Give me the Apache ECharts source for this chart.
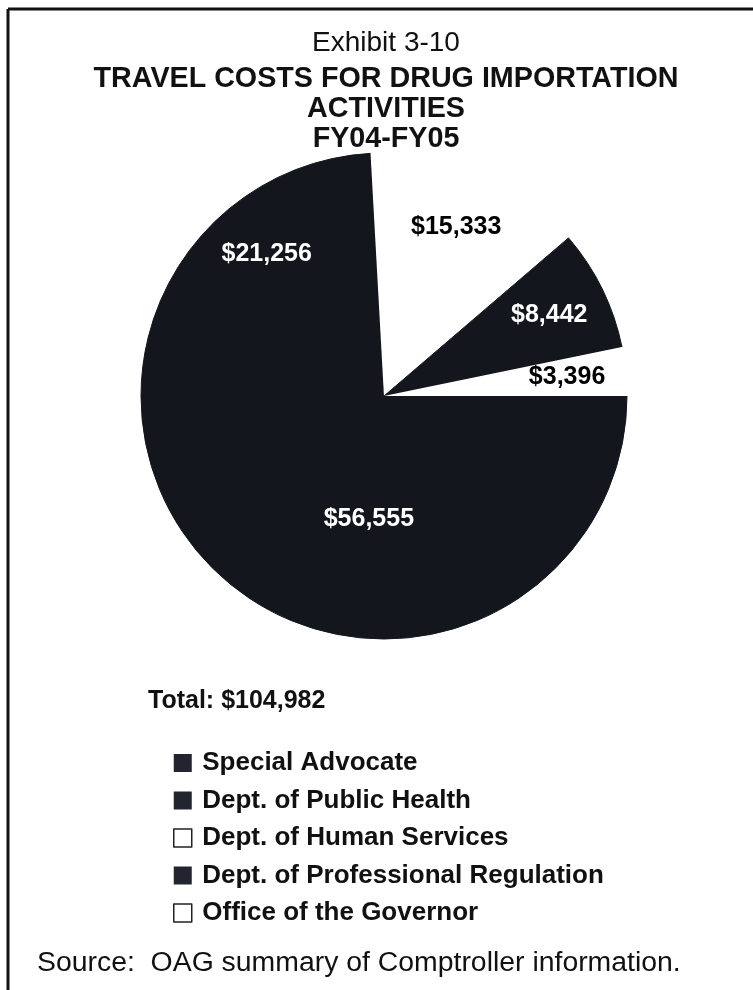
<!DOCTYPE html>
<html>
<head>
<meta charset="utf-8">
<title>Exhibit 3-10</title>
<script src="https://cdn.jsdelivr.net/npm/echarts@6/dist/echarts.min.js"></script>
<style>
    html, body {margin: 0; padding: 0; background: #fff;}
    #chart {width: 753px; height: 990px;}
</style>
</head>
<body>
<div id="chart"></div>
<script>
// slice names, in legend order (drawn clockwise from 3 o'clock)
var categories = [
    'Special Advocate',
    'Dept. of Public Health',
    'Dept. of Human Services',
    'Dept. of Professional Regulation',
    'Office of the Governor'
];
// travel costs, dollars
var costs = [56555, 21256, 15333, 8442, 3396];
// dark or white fill per slice
var fills = ['#14161e', '#14161e', '#ffffff', '#14161e', '#ffffff'];
var total = 104982;

var FONT = '"Liberation Sans", Arial, sans-serif';

function money(v) {
    return '$' + v.toLocaleString('en-US');
}

var myChart = echarts.init(document.getElementById('chart'), null, {renderer: 'canvas'});

// main pie: slices, and the label of the big slice (sits at half radius)
var pieData = [], labelData = [], legendData = [];
for (var i = 0; i < categories.length; i++) {
    var isWhite = fills[i] === '#ffffff';
    pieData.push({
        name: categories[i],
        value: costs[i],
        // dark slices get a border of their own colour so no seam shows between them
        itemStyle: isWhite ? {color: fills[i], borderWidth: 0} : {color: fills[i], borderColor: fills[i], borderWidth: 1},
        label: {show: i === 0, color: isWhite ? '#000' : '#fff'}
    });
    // label-only ring, its midpoint lands near 3/4 of the real radius
    labelData.push({
        name: categories[i],
        value: costs[i],
        label: {show: i !== 0, color: isWhite ? '#000' : '#fff'}
    });
    legendData.push({
        name: categories[i],
        itemStyle: isWhite ? {color: '#fff', borderColor: '#222', borderWidth: 1.5} : {color: '#22252f', borderWidth: 0}
    });
}

var labelStyle = {
    position: 'inside',
    fontFamily: FONT,
    fontWeight: 'bold',
    fontSize: 25,
    formatter: function (p) {
        return money(p.value);
    }
};

var option = {
    backgroundColor: '#fff',
    animation: false,
    title: [
        {
            text: 'Exhibit 3-10',
            left: 381,
            top: 23,
            textAlign: 'center',
            textStyle: {fontFamily: FONT, fontWeight: 'normal', fontSize: 28, color: '#111', lineHeight: 30}
        },
        {
            text: 'TRAVEL COSTS FOR DRUG IMPORTATION\nACTIVITIES\nFY04-FY05',
            left: 381,
            top: 59,
            textAlign: 'center',
            textStyle: {fontFamily: FONT, fontWeight: 'bold', fontSize: 28.7, color: '#111', lineHeight: 30}
        },
        {
            text: 'Total: ' + money(total),
            left: 143,
            top: 684,
            textStyle: {fontFamily: FONT, fontWeight: 'bold', fontSize: 25, color: '#111'}
        },
        {
            text: 'Source:  OAG summary of Comptroller information.',
            left: 32,
            top: 944,
            textStyle: {fontFamily: FONT, fontWeight: 'normal', fontSize: 28.4, color: '#111'}
        }
    ],
    legend: {
        orient: 'vertical',
        left: 168,
        top: 745,
        itemWidth: 29,
        itemHeight: 18,
        itemGap: 11.5,
        icon: 'path://M0,0H18V18H0Z',
        selectedMode: false,
        textStyle: {fontFamily: FONT, fontWeight: 'bold', fontSize: 26, lineHeight: 26, color: '#111'},
        data: legendData
    },
    graphic: [
        // scanned frame, top and left edges only
        {type: 'line', shape: {x1: 8, y1: 9, x2: 753, y2: 9}, style: {stroke: '#111', lineWidth: 3}},
        {type: 'line', shape: {x1: 8, y1: 9, x2: 8, y2: 990}, style: {stroke: '#111', lineWidth: 3}}
    ],
    series: [
        {
            name: 'Travel costs',
            type: 'pie',
            center: [384, 396],
            radius: [0, 243],
            startAngle: 0,
            clockwise: true,
            avoidLabelOverlap: false,
            silent: true,
            label: labelStyle,
            labelLine: {show: false},
            data: pieData
        },
        {
            name: 'Labels',
            type: 'pie',
            center: [384, 396],
            radius: [0, 362],
            startAngle: 0,
            clockwise: true,
            avoidLabelOverlap: false,
            silent: true,
            label: labelStyle,
            labelLine: {show: false},
            itemStyle: {color: 'rgba(0,0,0,0)', borderWidth: 0},
            z: 3,
            data: labelData
        }
    ]
};

myChart.setOption(option);
</script>
</body>
</html>
